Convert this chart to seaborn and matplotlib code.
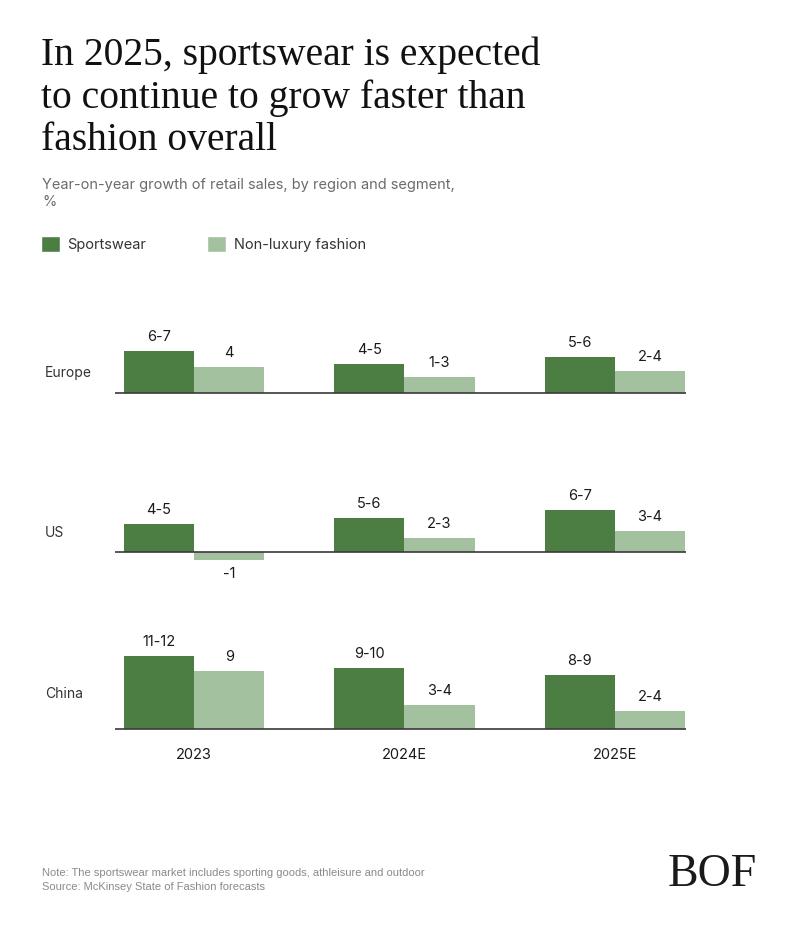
import matplotlib
matplotlib.use("Agg")
import matplotlib.pyplot as plt
import seaborn as sns
import pandas as pd
from matplotlib.patches import Patch

# data (bar heights ~ range midpoints)
YEARS = ["2023", "2024E", "2025E"]
REGIONS = ["Europe", "US", "China"]
SEGMENTS = ["Sportswear", "Non-luxury fashion"]

europe_sport = [6.5, 4.5, 5.5]
europe_nonlux = [4.0, 2.4, 3.4]
us_sport = [4.3, 5.2, 6.4]
us_nonlux = [-1.2, 2.1, 3.2]
china_sport = [11.3, 9.4, 8.3]
china_nonlux = [9.0, 3.7, 2.8]

europe_sport_lbl = ["6-7", "4-5", "5-6"]
europe_nonlux_lbl = ["4", "1-3", "2-4"]
us_sport_lbl = ["4-5", "5-6", "6-7"]
us_nonlux_lbl = ["-1", "2-3", "3-4"]
china_sport_lbl = ["11-12", "9-10", "8-9"]
china_nonlux_lbl = ["9", "3-4", "2-4"]

DARK = "#4c7e44"
LIGHT = "#a3c19e"

W, H = 800, 933
PX_PER_UNIT = 6.5


def fx(px):
    return px / W


def fy(px):
    return 1 - px / H


sns.set_theme(style="white")
plt.rcParams['font.family'] = ['Inter', 'DejaVu Sans']

fig = plt.figure(figsize=(W / 100, H / 100), dpi=100)
fig.patch.set_facecolor("white")

panels = [
    ("Europe", europe_sport, europe_nonlux, europe_sport_lbl, europe_nonlux_lbl, 393, (-2, 8.5), 373),
    ("US", us_sport, us_nonlux, us_sport_lbl, us_nonlux_lbl, 552, (-3, 8), 533),
    ("China", china_sport, china_nonlux, china_sport_lbl, china_nonlux_lbl, 729, (-1.5, 13.5), 694),
]

for i, (region, sport, nonlux, s_lbl, n_lbl, base, (lo, hi), label_y) in enumerate(panels):
    bottom_px = base - lo * PX_PER_UNIT
    top_px = base - hi * PX_PER_UNIT
    ax = fig.add_axes([fx(115), fy(bottom_px), fx(686) - fx(115), (bottom_px - top_px) / H])

    df = pd.DataFrame({
        "year": YEARS * 2,
        "segment": [SEGMENTS[0]] * 3 + [SEGMENTS[1]] * 3,
        "value": sport + nonlux,
    })
    sns.barplot(data=df, x="year", y="value", hue="segment", order=YEARS, hue_order=SEGMENTS,
                palette=[DARK, LIGHT], width=0.667, gap=0, saturation=1, legend=False,
                linewidth=0, ax=ax)

    for cont, lbl in zip(ax.containers, [s_lbl, n_lbl]):
        ax.bar_label(cont, labels=lbl, padding=5, fontsize=10.5, color="#1a1a1a")

    ax.axhline(0, color="#3a3a3a", lw=1.2, zorder=3)
    ax.set_xlim(-0.376, 2.338)
    ax.set_ylim(lo, hi)
    ax.set_facecolor("none")
    for sp in ax.spines.values():
        sp.set_visible(False)
    ax.set_yticks([])
    ax.set_xlabel("")
    ax.set_ylabel("")
    if i == 2:
        ax.tick_params(axis="x", length=0, pad=7, labelsize=10.5, labelcolor="#1a1a1a")
    else:
        ax.set_xticks([])

    fig.text(fx(45), fy(label_y), region, ha="left", va="center", fontsize=10, color="#333333")

# title, subtitle
fig.text(fx(41), fy(36), "In 2025, sportswear is expected\nto continue to grow faster than\nfashion overall",
         ha="left", va="top", fontsize=28.5, family=["Liberation Serif", "DejaVu Serif"],
         color="#111111", linespacing=1.2)
fig.text(fx(42), fy(178), "Year-on-year growth of retail sales, by region and segment,\n%",
         ha="left", va="top", fontsize=10.5, color="#6b6b6b", linespacing=1.3)

handles = [Patch(facecolor=DARK), Patch(facecolor=LIGHT)]
fig.legend(handles, SEGMENTS, loc="center left", bbox_to_anchor=(fx(41), fy(244)), ncol=2,
           frameon=False, borderpad=0, borderaxespad=0, fontsize=10.5,
           handlelength=1.3, handleheight=1.3, handletextpad=0.5, columnspacing=4.2,
           labelcolor="#333333")

# footer
fig.text(fx(42), fy(873), "Note: The sportswear market includes sporting goods, athleisure and outdoor",
         ha="left", va="center", fontsize=8, color="#8a8a8a", family=["Liberation Sans", "DejaVu Sans"])
fig.text(fx(42), fy(887), "Source: McKinsey State of Fashion forecasts",
         ha="left", va="center", fontsize=8, color="#8a8a8a", family=["Liberation Sans", "DejaVu Sans"])
fig.text(fx(668), fy(875), "BOF", ha="left", va="center", fontsize=33,
         family=["Liberation Serif", "DejaVu Serif"], color="#1a1a1a")

fig.savefig("out.png", dpi=100, facecolor="white")
